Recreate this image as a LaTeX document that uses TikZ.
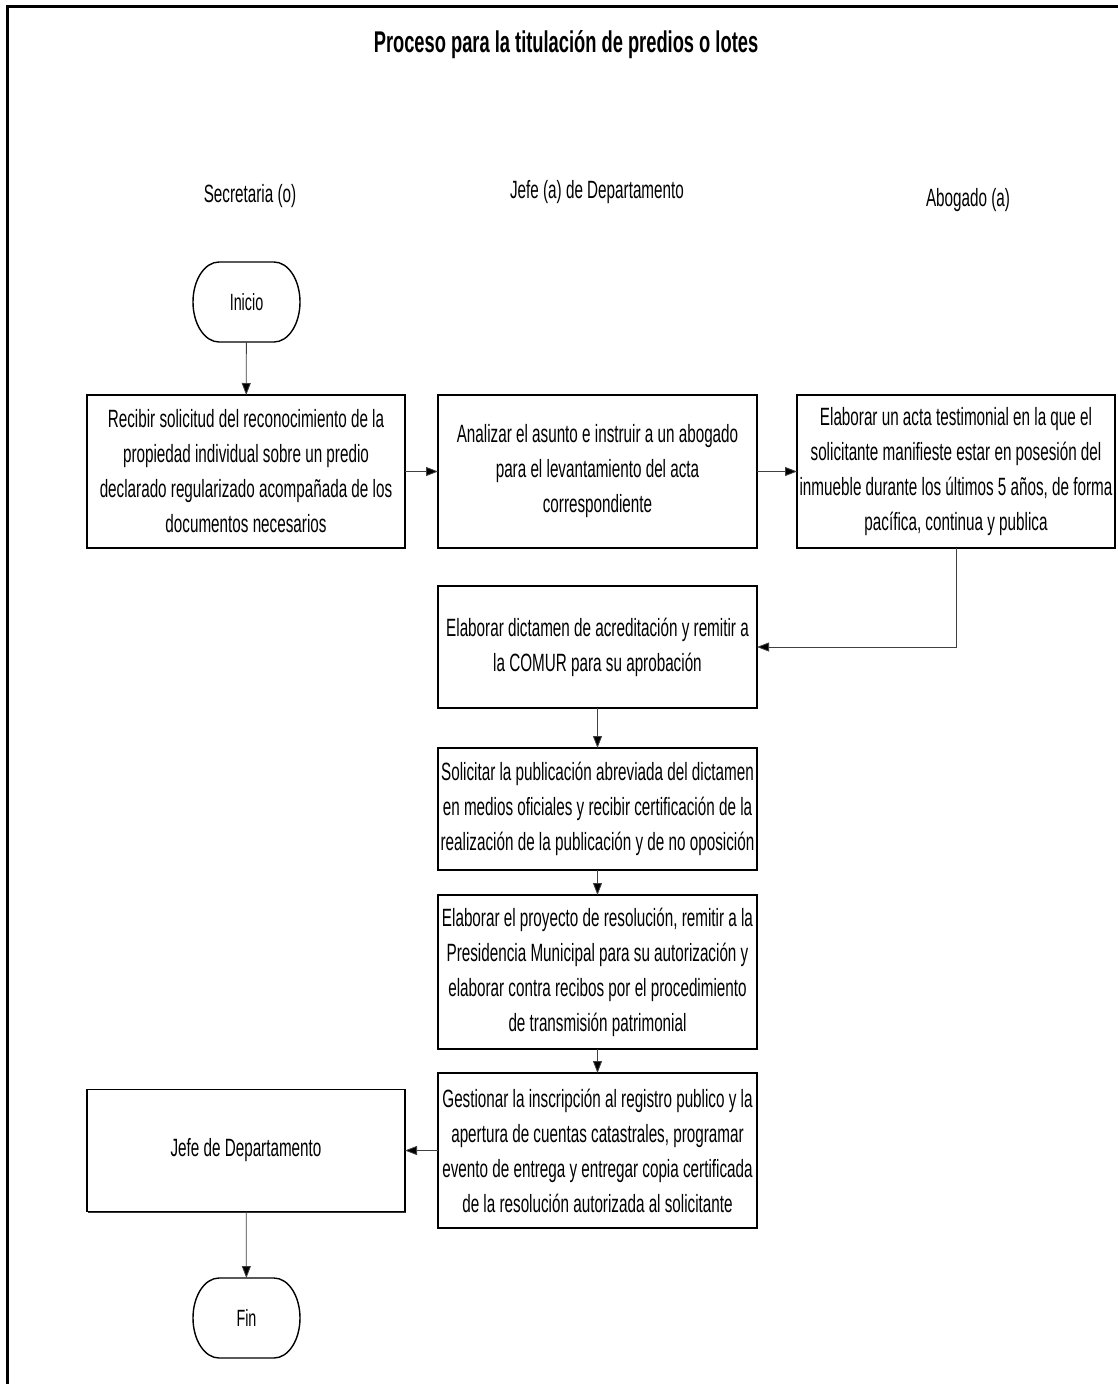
\documentclass[tikz,border=0pt]{standalone}
\usepackage{fontspec}
\setmainfont{Liberation Sans}[FakeStretch=0.61]
\usetikzlibrary{arrows.meta,shadows}
\begin{document}
\begin{tikzpicture}[x=1pt,y=-1pt,
  procbox/.style={draw, fill=white, line width=1.3pt, inner sep=0pt, outer sep=0pt, align=center,
     font=\fontsize{25}{35}\selectfont, minimum width=318pt,
     general shadow={shadow xshift=1.3pt, shadow yshift=-1.3pt, fill=black!80}},
  termnode/.style={inner sep=0pt, outer sep=0pt,
     minimum width=107pt, minimum height=80pt, font=\fontsize{23.5}{28}\selectfont},
  termline/.style={line width=1.4pt},
  lanelabel/.style={font=\fontsize{25}{30}\selectfont},
  conn/.style={draw=black!75, line width=0.8pt, -{Triangle[length=12pt,width=9pt,fill=black]}}
]
\useasboundingbox (0,0) rectangle (1118,1384);
\draw[line width=3pt] (7,1384) -- (7,6) -- (1118,6);

\node[font=\bfseries\fontsize{30}{34}\selectfont] (title) at (566,45) {Proceso para la titulación de predios o lotes};

\node[lanelabel] (l1) at (250,196) {Secretaria (o)};
\node[lanelabel] (l2) at (597,192) {Jefe (a) de Departamento};
\node[lanelabel] (l3) at (968,200) {Abogado (a)};

\node[termnode] (inicio) at (246.5,302) {Inicio};
\draw[termline] ([xshift=26pt]inicio.north west) -- ([xshift=-26pt]inicio.north east)
   arc[start angle=90, end angle=-90, x radius=26pt, y radius=40pt]
   -- ([xshift=26pt]inicio.south west)
   arc[start angle=270, end angle=90, x radius=26pt, y radius=40pt] -- cycle;

\node[procbox, minimum height=153pt] (b1) at (246,471.5) {Recibir solicitud del reconocimiento de la\\propiedad individual sobre un predio\\declarado regularizado acompañada de los\\documentos necesarios};
\node[procbox, minimum height=153pt, minimum width=319pt] (b2) at (597.5,471.5) {Analizar el asunto e instruir a un abogado\\para el levantamiento del acta\\correspondiente};
\node[procbox, minimum height=153pt] (b3) at (956,471.5) {Elaborar un acta testimonial en la que el\\solicitante manifieste estar en posesión del\\inmueble durante los últimos 5 años, de forma\\pacífica, continua y publica};
\node[procbox, minimum height=122pt, minimum width=319pt] (b4) at (597.5,647) {Elaborar dictamen de acreditación y remitir a\\la COMUR para su aprobación};
\node[procbox, minimum height=122pt, minimum width=319pt] (b5) at (597.5,809) {Solicitar la publicación abreviada del dictamen\\en medios oficiales y recibir certificación de la\\realización de la publicación y de no oposición};
\node[procbox, minimum height=154pt, minimum width=319pt] (b6) at (597.5,972) {Elaborar el proyecto de resolución, remitir a la\\Presidencia Municipal para su autorización y\\elaborar contra recibos por el procedimiento\\de transmisión patrimonial};
\node[procbox, minimum height=155pt, minimum width=319pt] (b7) at (597.5,1150.5) {Gestionar la inscripción al registro publico y la\\apertura de cuentas catastrales, programar\\evento de entrega y entregar copia certificada\\de la resolución autorizada al solicitante};
\node[procbox, minimum height=122pt] (jefe) at (246,1150.5) {Jefe de Departamento};

\node[termnode] (fin) at (246.5,1318) {Fin};
\draw[termline] ([xshift=26pt]fin.north west) -- ([xshift=-26pt]fin.north east)
   arc[start angle=90, end angle=-90, x radius=26pt, y radius=40pt]
   -- ([xshift=26pt]fin.south west)
   arc[start angle=270, end angle=90, x radius=26pt, y radius=40pt] -- cycle;

\draw[conn] (inicio) -- (b1);
\draw[conn] (b1) -- (b2);
\draw[conn] (b2) -- (b3);
\draw[conn] (b3.south) |- (b4.east);
\draw[conn] (b4) -- (b5);
\draw[conn] (b5) -- (b6);
\draw[conn] (b6) -- (b7);
\draw[conn] (b7) -- (jefe);
\draw[conn] (jefe) -- (fin);
\end{tikzpicture}
\end{document}
